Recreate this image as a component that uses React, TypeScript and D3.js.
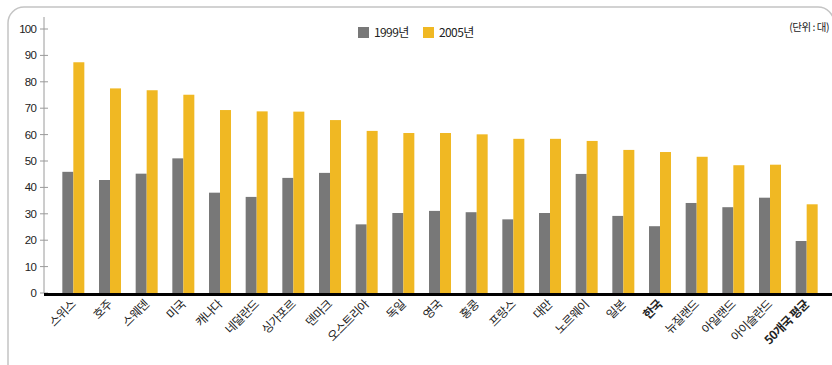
import React from "react";
import * as d3 from "d3";

// Country categories (x axis)
const categories = [
  "스위스", "호주", "스웨덴", "미국", "캐나다", "네덜란드", "싱가포르", "덴마크",
  "오스트리아", "독일", "영국", "홍콩", "프랑스", "대만", "노르웨이", "일본",
  "한국", "뉴질랜드", "아일랜드", "아이슬란드", "50개국 평균",
];

// Categories shown in bold
const boldCategories = ["한국", "50개국 평균"];

const series = ["1999년", "2005년"];

const values1999 = [
  45.9, 42.8, 45.2, 51.0, 38.0, 36.4, 43.6, 45.5, 26.0, 30.3, 31.1,
  30.6, 27.9, 30.3, 45.1, 29.2, 25.3, 34.1, 32.5, 36.1, 19.7,
];

const values2005 = [
  87.4, 77.5, 76.8, 75.1, 69.3, 68.8, 68.7, 65.5, 61.4, 60.6, 60.6,
  60.1, 58.4, 58.4, 57.6, 54.2, 53.4, 51.6, 48.4, 48.6, 33.6,
];

const yTicks = [0, 10, 20, 30, 40, 50, 60, 70, 80, 90, 100];

const unitLabel = "(단위 : 대)";

const W = 832;
const H = 365;
const colors = ["#787878", "#f0b823"];
const font = "'Noto Sans CJK KR', 'Noto Sans', sans-serif";

export default function App() {
  const x = d3
    .scaleBand<string>()
    .domain(categories)
    .range([55, 825])
    .paddingInner(0.4)
    .paddingOuter(0.2);
  const xs = d3
    .scaleBand<string>()
    .domain(series)
    .range([0, x.bandwidth()])
    .padding(0);
  const y = d3.scaleLinear().domain([0, 100]).range([293, 29]);

  const data = [values1999, values2005];
  const axisX = 44;

  return (
    <svg
      width={W}
      height={H}
      style={{ position: "absolute", left: 0, top: 0, background: "#fff" }}
      fontFamily={font}
    >
      {/* panel frame */}
      <rect
        x={8}
        y={7}
        width={826}
        height={380}
        rx={16}
        ry={16}
        fill="#fff"
        stroke="#c4c4c4"
        strokeWidth={1.5}
      />

      {/* y axis */}
      <line x1={axisX} x2={axisX} y1={17} y2={y(0)} stroke="#9a9a9a" strokeWidth={1} />
      {yTicks.map((t) => (
        <g key={t}>
          <line x1={axisX - 4} x2={axisX + 4} y1={y(t)} y2={y(t)} stroke="#9a9a9a" strokeWidth={1} />
          <text
            x={36}
            y={y(t)}
            dy="0.35em"
            textAnchor="end"
            fontSize={11.5}
            letterSpacing={-0.8}
            fill="#222"
            fontFamily="'Liberation Sans', Arial, sans-serif"
          >
            {t}
          </text>
        </g>
      ))}

      {/* bars */}
      {categories.map((c, i) => (
        <g key={c} transform={`translate(${x(c)},0)`}>
          {series.map((s, k) => (
            <rect
              key={s}
              x={xs(s)}
              y={y(data[k][i])}
              width={xs.bandwidth()}
              height={y(0) - y(data[k][i])}
              fill={colors[k]}
            />
          ))}
        </g>
      ))}

      {/* baseline */}
      <line x1={axisX} x2={W} y1={294.5} y2={294.5} stroke="#000" strokeWidth={3} />

      {/* category labels */}
      {categories.map((c) => {
        const cx = (x(c) as number) + x.bandwidth() / 2 + 3;
        const cy = 305;
        return (
          <text
            key={c}
            transform={`translate(${cx},${cy}) rotate(-45)`}
            textAnchor="end"
            fontSize={12}
            letterSpacing={-0.6}
            fontWeight={boldCategories.includes(c) ? 700 : 400}
            fill="#222"
          >
            {c}
          </text>
        );
      })}

      {/* legend */}
      {series.map((s, k) => {
        const lx = k === 0 ? 358 : 423;
        return (
          <g key={s} transform={`translate(${lx},27)`}>
            <rect width={11} height={11} fill={colors[k]} />
            <text x={16} y={5.5} dy="0.36em" fontSize={12} letterSpacing={-0.6} fill="#222">
              {s}
            </text>
          </g>
        );
      })}

      {/* unit note */}
      <text x={829} y={27} dy="0.35em" textAnchor="end" fontSize={10.5} letterSpacing={-0.5} fill="#222">
        {unitLabel}
      </text>
    </svg>
  );
}
